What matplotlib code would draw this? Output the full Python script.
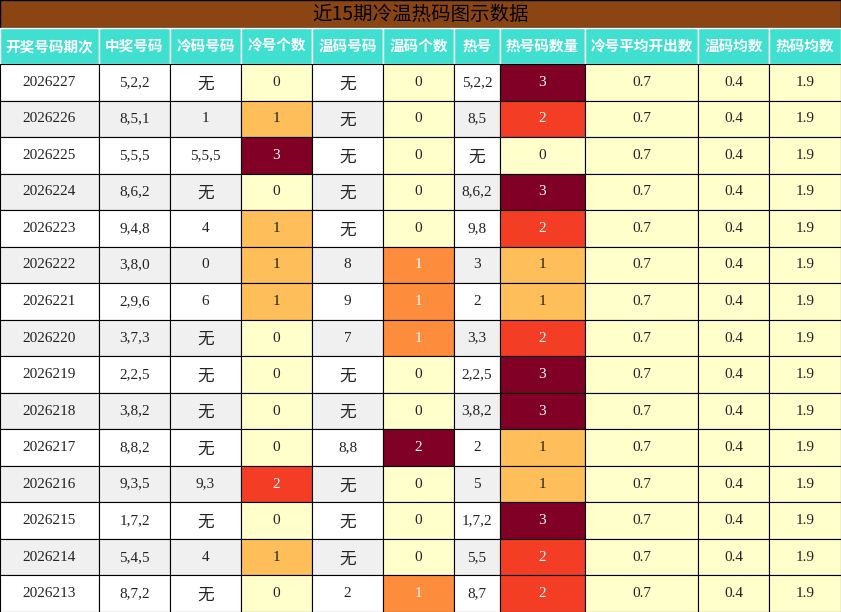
import matplotlib
matplotlib.use("Agg")
import matplotlib.pyplot as plt
from matplotlib.patches import Rectangle
from matplotlib import cm

title = "近15期冷温热码图示数据"
headers = ["开奖号码期次","中奖号码","冷码号码","冷号个数","温码号码","温码个数","热号","热号码数量","冷号平均开出数","温码均数","热码均数"]
periods = ["2026227","2026226","2026225","2026224","2026223","2026222","2026221","2026220","2026219","2026218","2026217","2026216","2026215","2026214","2026213"]
winning = ["5,2,2","8,5,1","5,5,5","8,6,2","9,4,8","3,8,0","2,9,6","3,7,3","2,2,5","3,8,2","8,8,2","9,3,5","1,7,2","5,4,5","8,7,2"]
cold_nums = ["无","1","5,5,5","无","4","0","6","无","无","无","无","9,3","无","4","无"]
cold_cnt = [0,1,3,0,1,1,1,0,0,0,0,2,0,1,0]
warm_nums = ["无","无","无","无","无","8","9","7","无","无","8,8","无","无","无","2"]
warm_cnt = [0,0,0,0,0,1,1,1,0,0,2,0,0,0,1]
hot_nums = ["5,2,2","8,5","无","8,6,2","9,8","3","2","3,3","2,2,5","3,8,2","2","5","1,7,2","5,5","8,7"]
hot_cnt = [3,2,0,3,2,1,1,2,3,3,1,1,3,2,2]
cold_avg, warm_avg, hot_avg = "0.7", "0.4", "1.9"

plt.rcParams['font.family'] = ['Liberation Serif', 'Noto Sans CJK SC', 'DejaVu Sans']
W, H = 841, 612
fig = plt.figure(figsize=(W/100, H/100), dpi=100)
ax = fig.add_axes([0, 0, 1, 1])
ax.set_xlim(0, W); ax.set_ylim(H, 0); ax.axis('off')

xs = [0, 99, 170, 241, 312, 383, 454, 500, 585, 698, 769, 841]
title_h, head_h = 28, 36
row_h = (H - title_h - head_h) / len(periods)
cmap = matplotlib.colormaps['YlOrRd']
yellow = "#FFFFCC"

ax.add_patch(Rectangle((0, 0), W, title_h, facecolor="#8B4513", edgecolor="black", lw=1))
ax.text(W/2, title_h/2, title, ha='center', va='center', fontsize=14, color='black',
        family=['Noto Sans CJK SC'])
for i, h in enumerate(headers):
    ax.add_patch(Rectangle((xs[i], title_h), xs[i+1]-xs[i], head_h, facecolor="#40E0D0", edgecolor="white", lw=1))
    ax.text((xs[i]+xs[i+1])/2, title_h+head_h/2, h, ha='center', va='center', fontsize=10.5,
            color='white', weight='bold', family=['Noto Sans CJK SC'])

counts = {3: (cold_cnt, max(cold_cnt)), 5: (warm_cnt, max(warm_cnt)), 7: (hot_cnt, max(hot_cnt))}
for r in range(len(periods)):
    y = title_h + head_h + r*row_h
    base = "white" if r % 2 == 0 else "#F0F0F0"
    vals = [periods[r], winning[r], cold_nums[r], cold_cnt[r], warm_nums[r], warm_cnt[r],
            hot_nums[r], hot_cnt[r], cold_avg, warm_avg, hot_avg]
    for c, v in enumerate(vals):
        fc, tc = base, "#222222"
        if c in counts:
            arr, mx = counts[c]
            t = v / mx if mx else 0
            fc = cmap(t) if v > 0 else yellow
            if t >= 0.5:
                tc = "white"
        elif c >= 8:
            fc = yellow
        ax.add_patch(Rectangle((xs[c], y), xs[c+1]-xs[c], row_h, facecolor=fc, edgecolor="black", lw=0.8))
        s = str(v)
        fs = 12 if s == "无" else 11
        ax.text((xs[c]+xs[c+1])/2, y+row_h/2+(2 if s == "无" else 0), s, ha='center', va='center',
                fontsize=fs, color=tc)

fig.savefig("out.png", dpi=100)
